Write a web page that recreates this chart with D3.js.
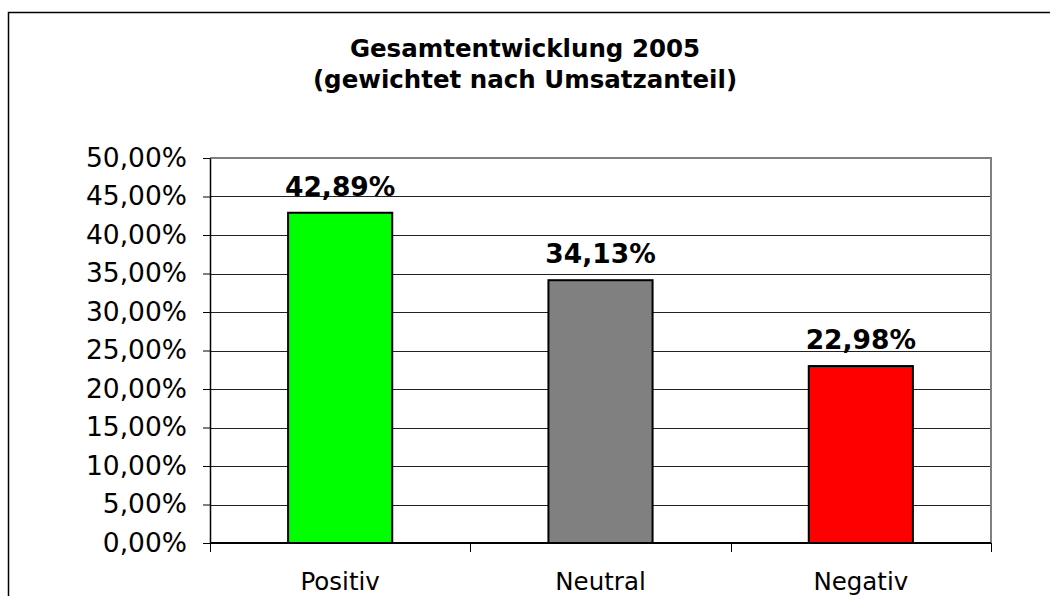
<!DOCTYPE html>
<html>
<head>
<meta charset="utf-8">
<script src="https://cdn.jsdelivr.net/npm/d3@7"></script>
<style>
  body { margin: 0; background: #fff; overflow: hidden; }
  svg { display: block; font-family: Verdana, "DejaVu Sans", sans-serif; }
</style>
</head>
<body>
<div id="chart"></div>
<script>
// Chart data
const categories = ['Positiv', 'Neutral', 'Negativ'];
const values = [0.4289, 0.3413, 0.2298];
const barColors = ['#00ff00', '#808080', '#ff0000'];
const yTicks = [0, 0.05, 0.1, 0.15, 0.2, 0.25, 0.3, 0.35, 0.4, 0.45, 0.5];
const titleLines = ['Gesamtentwicklung 2005', '(gewichtet nach Umsatzanteil)'];

const width = 1050;
const height = 596;
const margin = { t: 158, r: 59, b: 53, l: 210 };
const W = width - margin.l - margin.r;
const H = height - margin.t - margin.b;

// German number format
const pct = v => (v * 100).toFixed(2).replace('.', ',') + '%';

const svg = d3.select('#chart')
  .append('svg')
  .attr('width', width)
  .attr('height', height);

// outer chart frame (runs past the right and bottom edge)
svg.append('path')
  .attr('d', 'M8.5,700V12.5H1100')
  .attr('fill', 'none')
  .attr('stroke', '#000')
  .attr('stroke-width', 1.5);

// title
svg.append('text')
  .attr('text-anchor', 'middle')
  .attr('font-weight', 'bold')
  .attr('font-size', 24.5)
  .selectAll('tspan')
  .data(titleLines)
  .join('tspan')
  .attr('x', 525)
  .attr('y', (d, i) => 57 + i * 31)
  .text(d => d);

const g = svg.append('g')
  .attr('transform', `translate(${margin.l}, ${margin.t})`);

// Scales
const scaleX = d3.scaleBand()
  .domain(categories)
  .range([0, W])
  .paddingInner(0.6)
  .paddingOuter(0.3);

const scaleY = d3.scaleLinear()
  .domain([0, 0.5])
  .range([H, 0]);

// gridlines
g.append('g')
  .selectAll('line')
  .data(yTicks.slice(1, -1))
  .join('line')
  .attr('x1', 0)
  .attr('x2', W)
  .attr('y1', d => Math.round(scaleY(d)) + 0.5)
  .attr('y2', d => Math.round(scaleY(d)) + 0.5)
  .attr('stroke', '#222')
  .attr('stroke-width', 1);

// plot border top / right
g.append('path')
  .attr('d', `M0,${scaleY(0.5)}H${W}V${H}`)
  .attr('fill', 'none')
  .attr('stroke', '#808080')
  .attr('stroke-width', 2);

// bars
g.selectAll('rect.bar')
  .data(values)
  .join('rect')
  .attr('class', 'bar')
  .attr('x', (d, i) => scaleX(categories[i]))
  .attr('y', d => scaleY(d))
  .attr('width', scaleX.bandwidth())
  .attr('height', d => H - scaleY(d))
  .attr('fill', (d, i) => barColors[i])
  .attr('stroke', '#000')
  .attr('stroke-width', 2);

// value labels
g.selectAll('text.val')
  .data(values)
  .join('text')
  .attr('class', 'val')
  .attr('x', (d, i) => scaleX(categories[i]) + scaleX.bandwidth() / 2)
  .attr('y', d => scaleY(d) - 17)
  .attr('text-anchor', 'middle')
  .attr('font-weight', 'bold')
  .attr('font-size', 26.5)
  .text(d => pct(d));

// Axes
const yAxis = d3.axisLeft(scaleY)
  .tickValues(yTicks)
  .tickSizeInner(7)
  .tickSizeOuter(0)
  .tickPadding(16)
  .tickFormat(pct);

const yG = g.append('g').call(yAxis);
yG.select('.domain').attr('stroke', '#000').attr('stroke-width', 1.5);
yG.selectAll('.tick line').attr('stroke', '#000');
yG.selectAll('.tick text')
  .attr('font-size', 26.5)
  .attr('font-family', 'Verdana, "DejaVu Sans", sans-serif')
  .attr('fill', '#000');

// x axis: ticks sit between categories
const xEdge = d3.scaleLinear().domain([0, categories.length]).range([0, W]);
const xG = g.append('g').attr('transform', `translate(0, ${H})`);
xG.append('line')
  .attr('x1', 0)
  .attr('x2', W)
  .attr('stroke', '#000')
  .attr('stroke-width', 2);
xG.selectAll('line.tk')
  .data(d3.range(categories.length + 1))
  .join('line')
  .attr('class', 'tk')
  .attr('x1', d => Math.round(xEdge(d)) + 0.5)
  .attr('x2', d => Math.round(xEdge(d)) + 0.5)
  .attr('y1', 0)
  .attr('y2', 9)
  .attr('stroke', '#000');
xG.selectAll('text')
  .data(categories)
  .join('text')
  .attr('x', d => scaleX(d) + scaleX.bandwidth() / 2)
  .attr('y', 47)
  .attr('text-anchor', 'middle')
  .attr('font-size', 24.5)
  .text(d => d);
</script>
</body>
</html>
